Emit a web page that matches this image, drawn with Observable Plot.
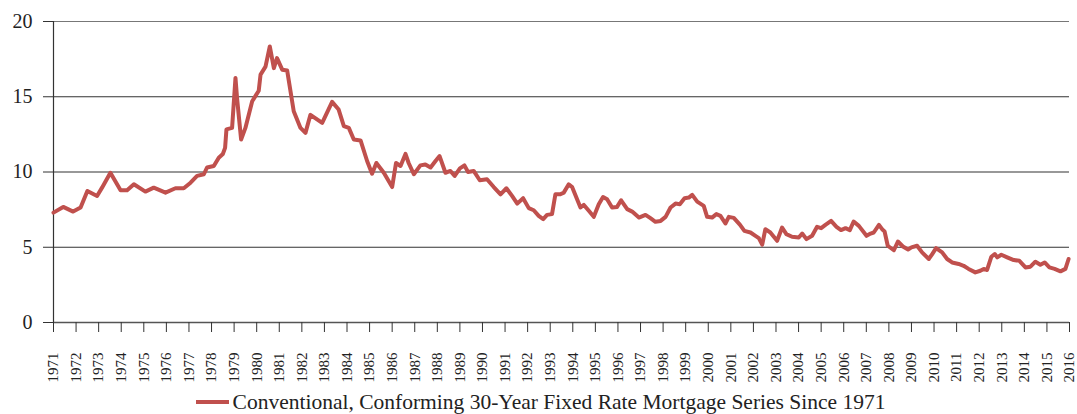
<!DOCTYPE html>
<html>
<head>
<meta charset="utf-8">
<script src="https://cdn.jsdelivr.net/npm/d3@7"></script>
<script src="https://cdn.jsdelivr.net/npm/@observablehq/plot@0.6"></script>
<style>
  html, body { margin: 0; padding: 0; background: #fff; overflow: hidden; }
  #chart { width: 1077px; height: 414px; position: relative; font-family: "Liberation Serif", "Times New Roman", serif; }
  #legend { display: flex; justify-content: center; align-items: center; height: 24px; line-height: 24px; font-size: 21.5px; color: #222; padding-left: 4px; }
  #legend svg { margin-right: 4px; }
  #chart > svg { display: block; }
</style>
</head>
<body>
<div id="chart"></div>
<script>
// Time positions (decimal years as placed on the chart's axis) and rates (%)
const periods = [
  1971.0, 1971.43, 1971.87, 1972.2, 1972.5, 1972.93, 1973.15, 1973.52, 1973.97, 1974.26,
  1974.56, 1975.07, 1975.44, 1975.96, 1976.4, 1976.77, 1977.07, 1977.36, 1977.66, 1977.8,
  1978.1, 1978.32, 1978.5, 1978.6, 1978.66, 1978.91, 1979.06, 1979.13, 1979.31, 1979.5,
  1979.8, 1980.09, 1980.17, 1980.39, 1980.58, 1980.76, 1980.9, 1981.13, 1981.35, 1981.64,
  1981.94, 1982.16, 1982.38, 1982.9, 1983.34, 1983.63, 1983.86, 1984.08, 1984.3, 1984.6,
  1984.89, 1985.11, 1985.3, 1985.63, 1986.0, 1986.17, 1986.37, 1986.59, 1986.73, 1986.96,
  1987.25, 1987.47, 1987.7, 1987.92, 1988.1, 1988.36, 1988.58, 1988.77, 1989.0, 1989.2,
  1989.36, 1989.61, 1989.88, 1990.2, 1990.5, 1990.8, 1991.06, 1991.31, 1991.54, 1991.8,
  1992.05, 1992.27, 1992.49, 1992.69, 1992.86, 1993.08, 1993.23, 1993.45, 1993.6, 1993.82,
  1993.97, 1994.19, 1994.34, 1994.49, 1994.71, 1994.93, 1995.15, 1995.34, 1995.52, 1995.74,
  1995.96, 1996.14, 1996.41, 1996.63, 1996.93, 1997.22, 1997.44, 1997.66, 1997.89, 1998.11,
  1998.33, 1998.55, 1998.74, 1998.95, 1999.14, 1999.29, 1999.51, 1999.8, 1999.95, 2000.17,
  2000.36, 2000.54, 2000.76, 2000.91, 2001.13, 2001.4, 2001.6, 2001.87, 2002.09, 2002.24,
  2002.39, 2002.53, 2002.75, 2003.05, 2003.27, 2003.46, 2003.71, 2004.01, 2004.16, 2004.35,
  2004.6, 2004.82, 2005.0, 2005.19, 2005.44, 2005.68, 2005.88, 2006.08, 2006.27, 2006.44,
  2006.67, 2007.01, 2007.19, 2007.33, 2007.56, 2007.7, 2007.81, 2007.95, 2008.22, 2008.4,
  2008.62, 2008.85, 2009.0, 2009.25, 2009.47, 2009.77, 2009.92, 2010.09, 2010.36, 2010.58,
  2010.8, 2011.09, 2011.31, 2011.53, 2011.83, 2012.05, 2012.2, 2012.35, 2012.54, 2012.69,
  2012.8, 2012.98, 2013.24, 2013.53, 2013.78, 2014.05, 2014.27, 2014.49, 2014.71, 2014.9,
  2015.11, 2015.34, 2015.6, 2015.82, 2015.96
];
const rates = [
  7.3, 7.68, 7.37, 7.64, 8.74, 8.41, 8.96, 9.95, 8.79, 8.79,
  9.19, 8.7, 8.96, 8.63, 8.92, 8.92, 9.29, 9.74, 9.85, 10.3,
  10.4, 10.95, 11.2, 11.6, 12.83, 12.93, 16.25, 14.9, 12.16, 12.93,
  14.7, 15.4, 16.47, 17.0, 18.34, 16.9, 17.57, 16.8, 16.74, 14.04,
  12.93, 12.6, 13.8, 13.26, 14.66, 14.15, 13.05, 12.93, 12.16, 12.1,
  10.73, 9.89, 10.6, 9.95, 9.0, 10.6, 10.4, 11.2, 10.6, 9.85,
  10.44, 10.5, 10.3, 10.73, 11.06, 9.95, 10.07, 9.74, 10.24, 10.44,
  10.0, 10.07, 9.45, 9.52, 9.0, 8.52, 8.92, 8.41, 7.9, 8.26,
  7.6, 7.46, 7.09, 6.87, 7.15, 7.2, 8.52, 8.52, 8.63, 9.18,
  9.0, 8.19, 7.64, 7.81, 7.42, 7.02, 7.86, 8.34, 8.19, 7.64,
  7.68, 8.12, 7.53, 7.37, 6.97, 7.15, 6.93, 6.69, 6.75, 7.02,
  7.64, 7.9, 7.86, 8.26, 8.3, 8.48, 8.03, 7.75, 7.02, 6.97,
  7.2, 7.09, 6.58, 7.02, 6.95, 6.5, 6.09, 5.98, 5.76, 5.61,
  5.17, 6.2, 5.98, 5.43, 6.31, 5.87, 5.7, 5.65, 5.91, 5.54,
  5.76, 6.36, 6.27, 6.49, 6.75, 6.36, 6.14, 6.27, 6.14, 6.71,
  6.42, 5.76, 5.91, 5.98, 6.49, 6.2, 6.05, 5.1, 4.8, 5.38,
  5.05, 4.85, 4.99, 5.1, 4.66, 4.22, 4.55, 4.94, 4.66, 4.22,
  3.99, 3.89, 3.77, 3.56, 3.33, 3.44, 3.56, 3.49, 4.37, 4.55,
  4.33, 4.5, 4.33, 4.15, 4.1, 3.66, 3.71, 4.04, 3.84, 3.99,
  3.66, 3.56, 3.4, 3.56, 4.22
];
const xTickYears = [
  1971, 1972, 1973, 1974, 1975, 1976, 1977, 1978, 1979, 1980,
  1981, 1982, 1983, 1984, 1985, 1986, 1987, 1988, 1989, 1990,
  1991, 1992, 1993, 1994, 1995, 1996, 1997, 1998, 1999, 2000,
  2001, 2002, 2003, 2004, 2005, 2006, 2007, 2008, 2009, 2010,
  2011, 2012, 2013, 2014, 2015, 2016
];
const yTicks = [0, 5, 10, 15, 20];
const gridValues = [5, 10, 15, 20];
const seriesName = "Conventional, Conforming 30-Year Fixed Rate Mortgage Series Since 1971";
const lineColor = "#C0504D";

const data = periods.map((p, i) => ({ t: p, r: rates[i] }));

const plot = Plot.plot({
  width: 1077,
  height: 390,
  marginLeft: 53,
  marginRight: 8,
  marginTop: 21,
  marginBottom: 68,
  style: { fontFamily: '"Liberation Serif", "Times New Roman", serif', background: "#fff", color: "#222" },
  x: { type: "linear", domain: [1971, 2016] },
  y: { domain: [0, 20] },
  marks: [
    Plot.ruleY(gridValues, { x1: 1971, x2: 2016, stroke: d => d === 20 ? "#777" : "#333", strokeWidth: 1.2 }),
    Plot.ruleY([0], { x1: 1971, x2: 2016, stroke: "#555", strokeWidth: 1.5 }),
    Plot.ruleX([1971], { y1: 0, y2: 20, stroke: "#333", strokeWidth: 1.2 }),
    Plot.axisY({ ticks: yTicks, tickSize: 10, tickPadding: 11, fontSize: 20, stroke: "#333", label: null, tickFormat: d => String(d) }),
    Plot.axisX({ ticks: xTickYears, tickSize: 10, tickPadding: 20, tickRotate: -90, fontSize: 15, stroke: "#333", label: null, tickFormat: d => String(d) }),
    Plot.line(data, { x: "t", y: "r", stroke: lineColor, strokeWidth: 4, strokeLinejoin: "round", strokeLinecap: "round" })
  ]
});

const chart = document.getElementById("chart");
chart.appendChild(plot);
const legend = document.createElement("div");
legend.id = "legend";
legend.innerHTML = `<svg width="33" height="6"><line x1="0" y1="3" x2="33" y2="3" stroke="${lineColor}" stroke-width="4"/></svg><span></span>`;
legend.querySelector("span").textContent = seriesName;
chart.appendChild(legend);
</script>
</body>
</html>
